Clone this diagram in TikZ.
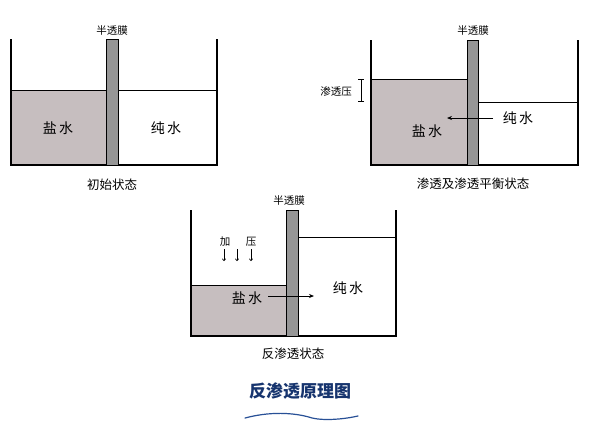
\documentclass[tikz,border=0pt]{standalone}
\usepackage{fontspec}
\newfontfamily\cjk{Noto Sans CJK SC}
\usetikzlibrary{arrows.meta}
\definecolor{salt}{RGB}{198,190,191}
\definecolor{memb}{RGB}{150,150,150}
\definecolor{titleblue}{RGB}{22,52,110}
\definecolor{waveblue}{RGB}{40,80,150}
\tikzset{
  wall/.style={line width=1.1pt,black},
  level/.style={line width=0.8pt,black},
  membr/.style={fill=memb,draw=black,line width=0.9pt},
  smalltxt/.style={font=\cjk\fontsize{10.5}{10.5}\selectfont,inner sep=0pt},
  captxt/.style={font=\cjk\fontsize{12.5}{12.5}\selectfont,inner sep=0pt},
  bigtxt/.style={font=\cjk\fontsize{14}{14}\selectfont,inner sep=0pt},
  flow/.style={line width=0.8pt,-{Stealth[length=5pt,width=4pt]}},
}
\begin{document}
\begin{tikzpicture}[x=1pt,y=-1pt]
\useasboundingbox (0,0) rectangle (606,429);
% ---------- diagram 1 ----------
\fill[salt] (11,90) rectangle (106,165);
\draw[wall] (11,39) -- (11,165) -- (217,165) -- (217,39);
\draw[level] (11,90) -- (106,90);
\draw[level] (118,90) -- (217,90);
\draw[membr] (106,39) rectangle (118,165);
\node[smalltxt] (m1) at (112,31) {半透膜};
\node[bigtxt] (s1) at (58,128) {盐\,水};
\node[bigtxt] (p1) at (166,128) {纯\,水};
\node[captxt] (c1) at (112,185) {初始状态};
% ---------- diagram 2 ----------
\fill[salt] (371,79) rectangle (467,165);
\draw[wall] (371,40) -- (371,165) -- (578,165) -- (578,40);
\draw[level] (371,79) -- (467,79);
\draw[level] (478,102) -- (578,102);
\draw[membr] (467,40) rectangle (478,165);
\node[smalltxt] (m2) at (473,31) {半透膜};
\node[smalltxt] (op) at (336,91) {渗透压};
\coordinate (opt) at (361,79);
\coordinate (opb) at (361,102);
\draw[line width=0.8pt,{Bar[width=6pt]}-{Bar[width=6pt]}] (opt) -- (opb);
\node[bigtxt] (p2) at (518,118) {纯\,水};
\node[bigtxt] (s2) at (427,131) {盐\,水};
\coordinate (a2s) at (493,118);
\coordinate (a2e) at (447,118);
\draw[flow] (a2s) -- (a2e);
\node[captxt] (c2) at (473,184) {渗透及渗透平衡状态};
% ---------- diagram 3 ----------
\fill[salt] (191,285) rectangle (286,336);
\draw[wall] (191,210) -- (191,336) -- (396,336) -- (396,210);
\draw[level] (191,285) -- (286,285);
\draw[level] (298,237) -- (396,237);
\draw[membr] (286,210) rectangle (298,336);
\node[smalltxt] (m3) at (289,201) {半透膜};
\node[smalltxt] (j) at (225,242) {加};
\node[smalltxt] (y) at (251,242) {压};
\foreach \xx/\nm in {224/d1,237/d2,251/d3}{
  \coordinate (\nm a) at (\xx,249);
  \coordinate (\nm b) at (\xx,261);
  \draw[line width=0.6pt,-{To[length=2.5pt,width=4pt]}] (\nm a) -- (\nm b);
}
\node[bigtxt] (s3) at (247,298) {盐\,水};
\node[bigtxt] (p3) at (348,288) {纯\,水};
\coordinate (a3s) at (268,296);
\coordinate (a3e) at (314,296);
\draw[flow] (a3s) -- (a3e);
\node[captxt] (c3) at (293,354) {反渗透状态};
% ---------- title ----------
\node[font=\cjk\bfseries\fontsize{17}{17}\selectfont,text=titleblue,inner sep=0pt] (t) at (300,391) {反渗透原理图};
\coordinate (w0) at (245,418);
\coordinate (w1) at (358,416);
\draw[waveblue,line width=1.2pt,line cap=round] (w0) .. controls (275,410) and (300,414) .. (312,418) .. controls (325,421) and (345,419) .. (w1);
\end{tikzpicture}
\end{document}
